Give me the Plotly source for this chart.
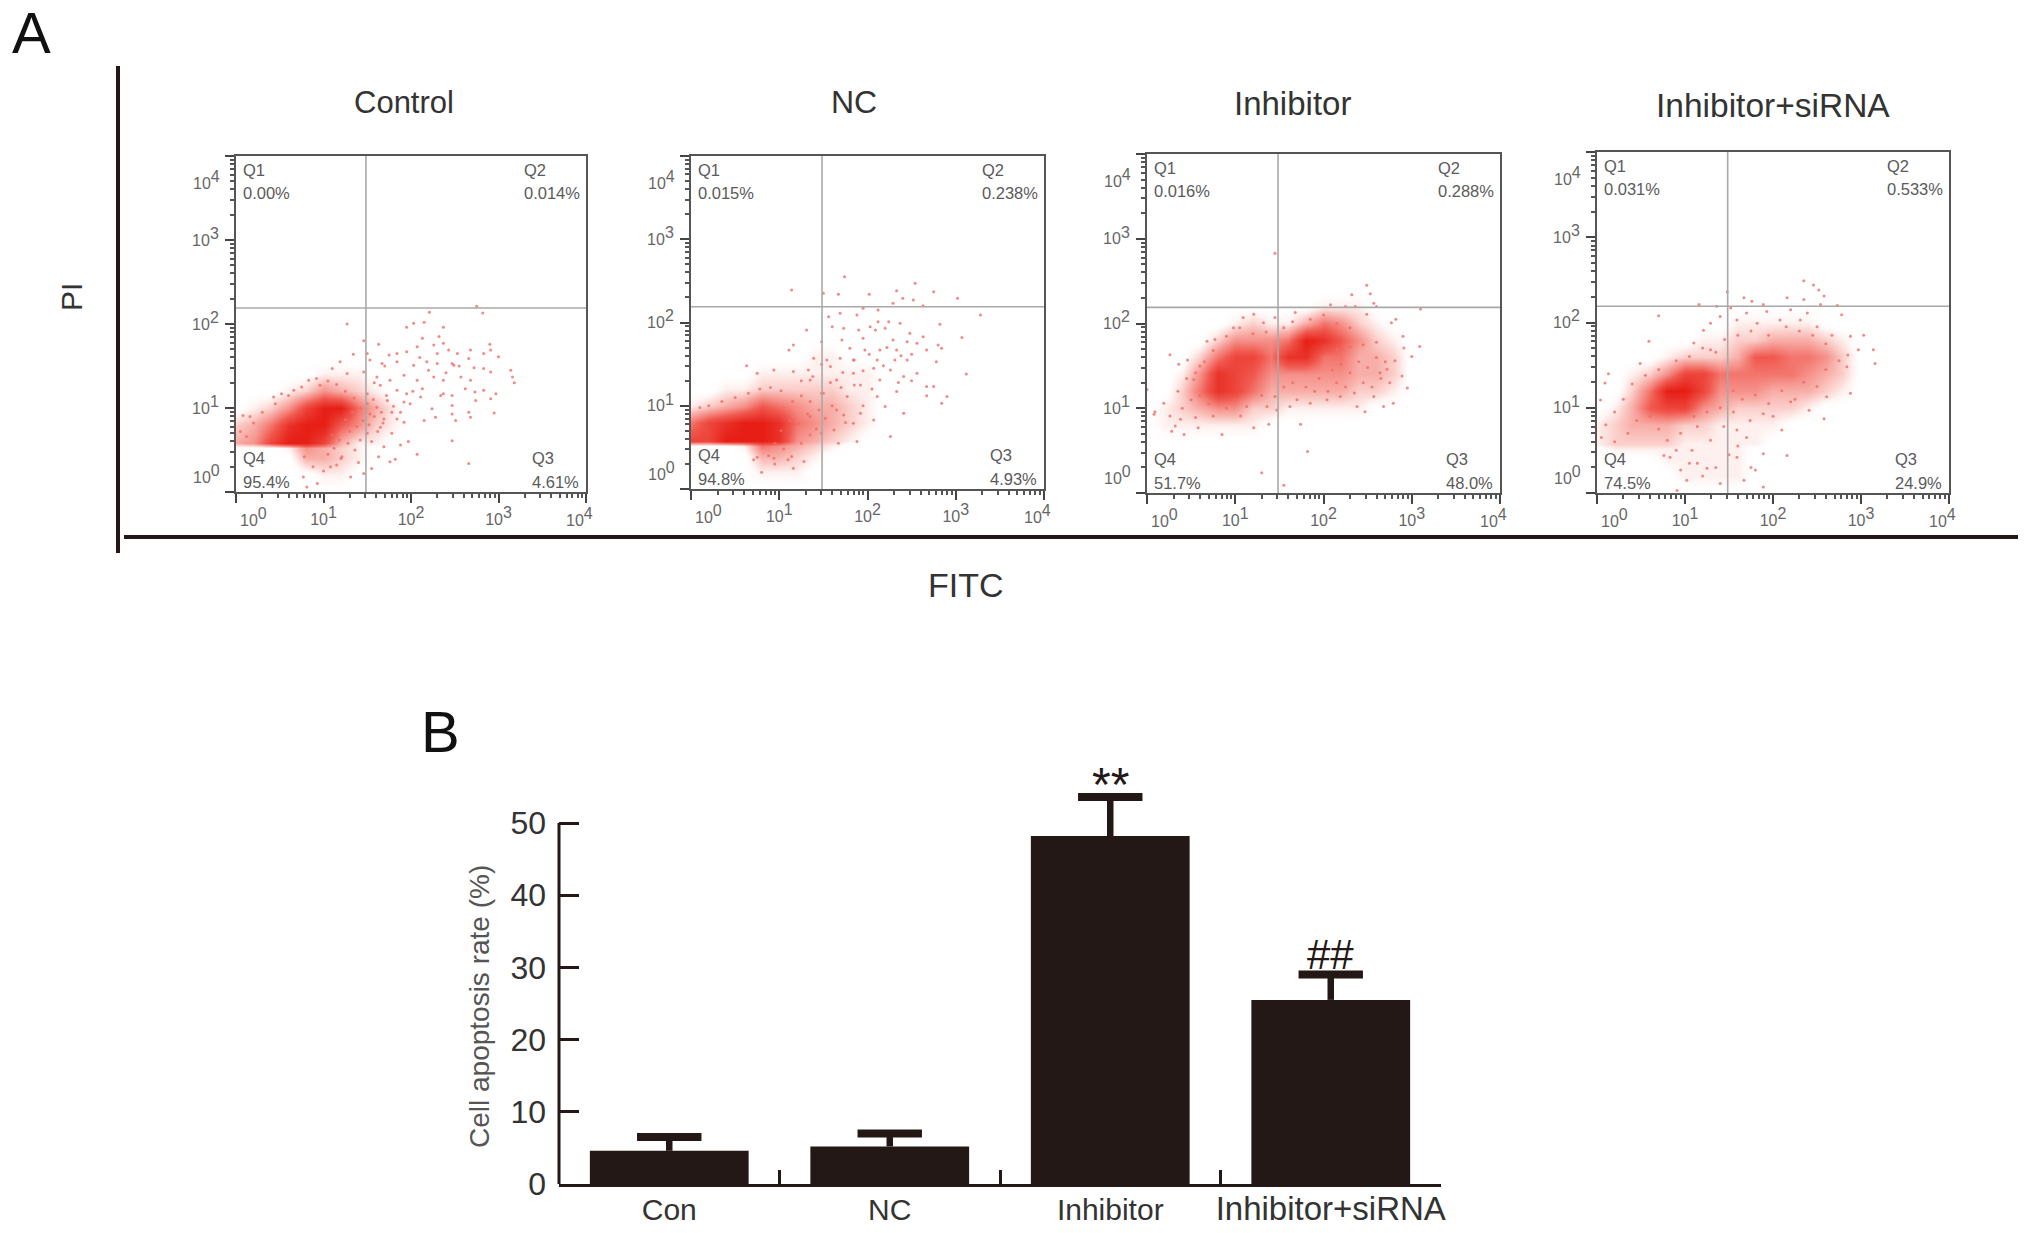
import numpy as np
import plotly.graph_objects as go

FONT = "Liberation Sans"
W, H = 2031, 1233

# ---------- panel A: flow cytometry (axes are decades of fluorescence) ----------
PANEL_TITLES = ["Control", "NC", "Inhibitor", "Inhibitor+siRNA"]
Q1_PCT = ["0.00%", "0.015%", "0.016%", "0.031%"]
Q2_PCT = ["0.014%", "0.238%", "0.288%", "0.533%"]
Q3_PCT = ["4.61%", "4.93%", "48.0%", "24.9%"]
Q4_PCT = ["95.4%", "94.8%", "51.7%", "74.5%"]
GATE_X = 1.485
GATE_Y = 2.19
DECADES = [0, 1, 2, 3, 4]
DECADE_LABELS = ['10<sup><span style="font-size:16px">%d</span></sup>' % d for d in DECADES]

# estimated event density (0-9) read from the dense clouds; one digit per column
DENSITY_X = [0, .2, .4, .6, .8, 1, 1.2, 1.4, 1.6, 1.8, 2, 2.2, 2.4, 2.6, 2.8, 3, 3.2]
DENSITY_Y = [0, .2, .4, .52, .58, .8, 1, 1.2, 1.4, 1.6, 1.8, 2, 2.2, 2.4]
DENSITY_CONTROL = [
    "00000000000000000", "00000110000000000", "00003321000000000", "00014321000000000",
    "34799731100000000", "23589964210000000", "01247995310000000", "00012432100000000",
    "00000111000000000", "00000000000000000", "00000000000000000", "00000000000000000",
    "00000000000000000", "00000000000000000"]
DENSITY_NC = [
    "00000000000000000", "00001110000000000", "00003321000000000", "00015432100000000",
    "77999843210000000", "57899854321000000", "12346543321000000", "00112222211000000",
    "00001111111000000", "00000001100000000", "00000000000000000", "00000000000000000",
    "00000000000000000", "00000000000000000"]
DENSITY_INHIBITOR = [
    "00000000000000000", "00000000000000000", "00000000000000000", "00000000000000000",
    "00000000000000000", "01111110000000000", "01234422111110000", "00258753333322100",
    "00148764444433200", "00025775885533200", "00002444598642100", "00000121135421000",
    "00000000001110000", "00000000000000000"]
DENSITY_SIRNA = [
    "00000000000000000", "00000111100000000", "00001111100000000", "01111111100000000",
    "12222111110000000", "12333221111000000", "01367743222210000", "00259974443332100",
    "00124775555543200", "00001222366554200", "00000011223332100", "00000000111110000",
    "00000000000000000", "00000000000000000"]

# individually visible events outside the dense clouds
CONTROL_X = [1.27,2.75,2.82,2.21,1.95,2.03,2.15,2.37,1.46,2.32,2.13,1.63,2.07,2.26,2.37,2.9,2.91,2.43,2.53,2.68,2.83,3.0,1.75,1.84,1.95,1.34,1.5,1.53,1.67,1.84,2.03,2.18,2.3,2.47,2.66,2.49,2.83,2.91,3.14,3.16,3.18,1.19,1.1,1.27,1.46,1.61,1.76,1.92,2.07,2.26,2.37,2.57,2.68,1.65,1.84,1.95,2.13,2.37,2.47,2.62,2.73,2.83,2.97,2.91,1.5,1.73,1.92,2.11,2.34,2.47,2.74,1.61,1.78,1.99,2.24,2.66,2.95,2.47,1.53,1.69,1.84,1.92,2.15,2.28,2.51,2.68,1.5,1.65,1.78,1.97,1.88,1.69,2.47,2.07,1.63,1.76,2.66,1.82,1.15,1.31,1.46,1.55,.93,.81,.77,1.08,1.21,.16,.08,.43,.52,.66,.83,.96]
CONTROL_Y = [2.0,2.21,2.13,2.14,1.96,2.01,2.02,1.96,1.8,1.85,1.83,1.76,1.73,1.75,1.77,1.76,1.69,1.69,1.65,1.69,1.65,1.61,1.63,1.65,1.67,1.64,1.65,1.57,1.53,1.55,1.51,1.55,1.53,1.53,1.59,1.51,1.47,1.43,1.45,1.37,1.3,1.55,1.47,1.41,1.43,1.37,1.33,1.39,1.33,1.37,1.33,1.37,1.33,1.27,1.21,1.17,1.23,1.17,1.15,1.23,1.19,1.21,1.17,1.11,1.17,1.09,1.07,1.13,1.15,1.03,1.09,1.01,.95,1.05,.99,.95,.94,.93,.93,.87,.87,.83,.85,.89,.85,.89,.7,.77,.7,.6,.56,.54,.61,.45,.42,.36,.34,.39,.32,.18,.22,.28,.1,.06,.18,.3,.42,.9,.91,1.13,1.17,1.21,1.33,1.27]
CONTROL_HALO = [(1.05,.45),(1.12,.52),(1.2,.4),(1.28,.58),(1.36,.5),(1.42,.62),(1.1,.68),(1.18,.62),(1.3,.72),(1.38,.78),(1.45,.85),(1.52,.8),(1.58,.9),(1.62,.72),(1.68,.82),(1.25,.86),(1.33,.95),(1.42,1.0),(1.5,1.05),(1.57,1.1),(1.35,1.12),(1.25,1.2),(1.15,1.28),(1.05,1.32),(.92,1.35),(.75,1.25),(.6,1.15),(.45,1.05),(.3,.95),(.2,.82),(.05,.72),(.12,.66),(1.0,.25),(.88,.3),(.78,.42),(1.4,.35),(1.55,.6),(1.66,.95),(1.72,1.15),(1.8,1.02),(1.88,.95),(2.02,1.2),(2.2,1.45),(2.4,1.42),(2.55,1.5),(2.72,1.48),(2.1,1.6),(2.3,1.65),(1.58,1.3),(1.7,1.5)]
NC_X = [1.14,1.74,1.5,1.67,2.02,2.33,2.54,2.75,3.02,2.4,2.52,2.63,2.29,2.12,1.95,1.88,1.69,1.56,3.28,2.82,2.37,2.24,2.12,2.03,1.31,1.6,1.73,1.9,2.09,2.2,2.48,2.63,3.07,2.8,2.84,1.48,1.71,1.95,2.29,2.45,2.56,1.16,1.11,1.8,1.97,2.14,2.33,2.67,2.78,1.39,1.54,1.69,1.84,2.11,2.31,2.45,.94,1.16,1.33,1.58,1.84,2.07,2.26,2.41,2.56,3.12,.63,.75,1.35,1.65,1.92,2.14,2.33,2.67,2.75,2.67,2.9,2.84,1.5,1.77,2.11,2.2,2.41,1.92,1.73,2.07,1.62,1.84,2.26,1.88,1.67,1.48,1.35,1.28,1.16,.8,1.14,.94,.71]
NC_Y = [2.39,2.55,2.35,2.34,2.34,2.38,2.47,2.37,2.29,2.29,2.27,2.2,2.23,2.15,2.17,2.09,2.11,2.07,2.09,1.98,1.99,2.01,2.01,1.95,1.91,1.95,1.93,1.91,1.91,1.93,1.87,1.83,1.82,1.73,1.69,1.77,1.79,1.81,1.79,1.77,1.75,1.73,1.67,1.69,1.67,1.67,1.67,1.67,1.53,1.57,1.55,1.57,1.55,1.55,1.55,1.55,1.43,1.41,1.43,1.47,1.39,1.45,1.43,1.35,1.39,1.38,1.48,1.39,1.31,1.31,1.25,1.31,1.17,1.23,1.23,1.12,1.11,1.03,1.15,1.11,1.11,.99,.91,.91,.89,.83,.71,.79,.63,.57,.55,.67,.87,.33,.25,.2,.39,.37,.35]
NC_HALO = [(.95,.55),(1.05,.48),(1.15,.62),(1.25,.55),(1.35,.65),(1.02,.7),(1.12,.82),(1.22,.78),(1.32,.9),(1.42,.72),(1.45,.95),(1.52,.85),(1.6,1.0),(1.05,.98),(1.15,1.05),(1.25,1.12),(1.35,1.05),(1.48,1.15),(1.02,1.18),(.9,1.22),(.78,1.2),(.65,1.15),(.5,1.1),(.35,1.05),(.2,1.0),(.1,.98),(.88,.4),(.75,.38),(.95,.3),(1.1,.35),(1.25,1.3),(1.38,1.35),(1.48,1.5),(1.58,1.28),(1.7,1.22),(1.72,1.4),(1.85,1.55),(1.95,1.42),(2.02,1.62),(2.18,1.48),(2.22,1.7),(2.38,1.6),(2.35,1.28),(2.5,1.3),(2.5,1.62),(2.05,1.2),(1.85,1.25),(1.65,.95),(1.75,.8),(1.95,1.0)]
INHIBITOR_X = [1.45,2.49,2.53,2.32,3.1,2.57,2.25,2.08,2.36,2.49,2.6,2.82,2.77,2.9,2.91,3.09,3.0,2.81,2.89,2.95,2.79,2.68,2.47,1.74,1.82,1.3,1.55,1.21,1.38,.85,.28,.42,.58,.26,.36,.46,.68,.09,.19,.08,.26,0,1.21,1.09,1.45,1.68,.98,.77,.6,.53,1.32,1.45,1.47,1.62,1.85,2.04,2.19,2.38,1.36,1.13,1.06,.75,.55,.38,.32,2.72,2.64,2.57]
INHIBITOR_Y = [2.83,2.45,2.35,2.34,2.17,2.24,2.2,2.22,2.2,2.11,2.2,2.05,2.01,1.85,1.71,1.73,1.61,1.56,1.38,1.24,1.06,1.02,.96,.81,.49,.24,.09,.77,.81,.69,.73,.69,.77,1.63,1.52,1.57,1.79,.96,1.06,.93,.91,1.22,2.11,2.07,2.07,2.13,1.95,1.81,1.5,1.34,2.01,1.14,.98,1.02,1.06,1.1,1.14,1.02,1.02,1.02,.91,.91,.89,.87,.79,1.46,1.42,1.14]
INHIBITOR_HALO = [(2.05,1.2),(2.15,1.3),(2.25,1.25),(2.35,1.18),(2.45,1.3),(2.55,1.25),(2.65,1.35),(2.1,1.45),(2.2,1.52),(2.3,1.42),(2.4,1.55),(2.5,1.48),(2.6,1.6),(2.7,1.55),(2.75,1.3),(2.15,1.7),(2.3,1.72),(2.45,1.75),(2.6,1.78),(1.7,1.1),(1.8,1.25),(1.9,1.2),(1.95,1.35),(1.65,1.3),(1.55,1.25),(1.3,1.15),(1.2,1.25),(1.1,1.15),(1.0,1.1),(.9,1.0),(.7,1.05),(.6,1.15),(.5,1.1),(.4,1.0),(.35,1.2),(.45,1.35),(.55,1.42),(.65,1.55),(.75,1.68),(.9,1.85),(1.05,1.95),(1.2,1.88),(1.35,1.9),(1.55,1.95),(1.65,2.02),(1.85,2.05),(2.0,2.1),(2.15,2.0),(2.3,1.95),(1.15,1.7)]
SIRNA_X = [2.35,2.46,2.52,2.58,1.48,1.67,1.76,1.89,2.16,2.35,2.54,2.73,1.16,1.36,1.52,1.7,1.93,2.2,2.39,2.78,.7,1.4,1.59,1.82,2.08,2.31,2.5,1.29,3.03,2.88,2.67,3.14,3.16,2.97,2.84,2.88,2.61,2.58,2.41,2.2,1.89,1.74,1.59,2.1,1.89,2.16,1.8,1.67,1.89,1.59,1.44,1.29,1.14,1.08,.95,1.14,1.25,1.02,.83,.76,.91,1.4,.04,.09,.13,.49,.59,1.1,1.21,1.29]
SIRNA_Y = [2.49,2.44,2.38,2.31,2.36,2.29,2.25,2.21,2.29,2.27,2.21,2.2,2.21,2.19,2.17,2.11,2.13,2.15,2.11,2.09,2.08,2.07,2.03,1.99,2.03,2.03,1.95,1.99,1.85,1.84,1.85,1.68,1.52,1.68,1.48,1.17,1.13,.87,.97,1.07,.93,.85,.74,.74,.46,.44,.27,.15,.07,.42,.78,.62,.78,.5,.27,.35,.29,.15,.42,.44,.03,.11,1.09,1.29,1.4,1.52,1.78,1.76,1.91,1.68]
SIRNA_HALO = [(1.55,1.2),(1.65,1.1),(1.8,1.15),(1.95,1.05),(2.1,1.2),(2.25,1.1),(2.35,1.3),(2.5,1.25),(2.6,1.45),(2.75,1.55),(2.85,1.62),(2.6,1.75),(2.45,1.85),(2.3,1.9),(2.15,1.95),(1.95,1.85),(1.75,1.9),(1.6,1.85),(1.45,1.8),(1.35,1.65),(1.2,1.7),(1.05,1.6),(.9,1.55),(.7,1.45),(.55,1.38),(.4,1.28),(.3,1.1),(.2,.95),(.1,.8),(.05,.65),(.2,.6),(.35,.7),(.45,.85),(.6,.9),(.7,.75),(.8,.62),(.95,.7),(1.1,.9),(1.25,.95),(1.4,1.0),(1.55,.95),(1.7,.65),(1.5,.45),(1.35,.3),(1.2,.2),(1.05,.35),(.9,.5),(1.6,.55),(1.75,.3),(2.0,.9)]

DENSITIES = [DENSITY_CONTROL, DENSITY_NC, DENSITY_INHIBITOR, DENSITY_SIRNA]
EVENTS_X = [CONTROL_X, NC_X, INHIBITOR_X, SIRNA_X]
EVENTS_Y = [CONTROL_Y, NC_Y, INHIBITOR_Y, SIRNA_Y]
HALOS = [CONTROL_HALO, NC_HALO, INHIBITOR_HALO, SIRNA_HALO]

# ---------- panel B: bars ----------
BAR_CATEGORIES = ["Con", "NC", "Inhibitor", "Inhibitor+siRNA"]
BAR_LABELS = ["Con", "NC", "Inhibitor", '<span style="font-size:33px">Inhibitor+siRNA</span>']
BAR_VALUES = [4.6, 5.2, 48.2, 25.5]
BAR_ERRORS = [1.9, 1.8, 5.4, 3.5]
BAR_MARKS = ["", "", "**", "##"]
BAR_TICKS = [0, 10, 20, 30, 40, 50]
BAR_TOP = 50
BAR_RANGE_TOP = 60

# ---------- layout in pixels ----------
BOXES = [(236, 586, 156, 492), (691, 1044, 156, 489), (1147, 1500, 154, 493), (1597, 1949, 152, 493)]
TITLE_POS = [(404, 102), (854, 102), (1292, 104), (1773, 105)]
TITLE_SIZES = [31, 32, 33, 33.5]
BAR_L, BAR_R, BAR_50, BAR_0 = 559, 1441, 823, 1184
DARK = "#231815"
GREY = "#555555"
LABEL_GREY = "#666666"
COLORSCALE = [[0, "rgba(255,255,255,0)"], [1/9, "#fef0ee"], [3/9, "#f8aea8"], [6/9, "#f0584e"], [1, "#e61e16"]]

def px_x(v): return v / W
def px_y(v): return 1 - v / H

minor_vals = [d + float(np.log10(k)) for d in DECADES[:-1] for k in range(2, 10)]
# the end labels are nudged inwards in the reference, so they are placed as annotations
axis_labels = ["", DECADE_LABELS[1], DECADE_LABELS[2], DECADE_LABELS[3], ""]

fig = go.Figure()
layout = dict(width=W, height=H, autosize=False, margin=dict(l=0, r=0, t=0, b=0),
              paper_bgcolor="white", plot_bgcolor="white", showlegend=False,
              font=dict(family=FONT, color=GREY))
annotations = []

def text(x, y, s, size, color=DARK, **kw):
    annotations.append(dict(x=px_x(x), y=px_y(y), xref="paper", yref="paper", text=s, showarrow=False,
                            font=dict(family=FONT, size=size, color=color),
                            xanchor="center", yanchor="middle", **kw))

for i, (l, r, t, b) in enumerate(BOXES):
    n = i + 1
    ax = "" if n == 1 else str(n)
    xa, ya = "x" + ax, "y" + ax
    common = dict(range=[0, 4], tickmode="array", tickvals=DECADES, ticktext=axis_labels, automargin=False,
                  ticks="outside", ticklen=9, tickwidth=2, tickcolor="#444444", ticklabelstandoff=3,
                  minor=dict(tickmode="array", tickvals=minor_vals, ticks="outside", ticklen=4,
                             tickwidth=1.5, tickcolor="#555555"),
                  showline=True, mirror=True, linecolor="#555555", linewidth=2, showgrid=False,
                  zeroline=False, tickfont=dict(family=FONT, size=16, color=LABEL_GREY))
    layout["xaxis" + ax] = dict(domain=[px_x(l), px_x(r)], anchor=ya, **common)
    layout["yaxis" + ax] = dict(domain=[px_y(b), px_y(t)], anchor=xa, **common)

    fig.add_trace(go.Heatmap(x=DENSITY_X, y=DENSITY_Y,
                             z=[[int(c) for c in row] for row in DENSITIES[i]],
                             zmin=0, zmax=9, zsmooth="best", colorscale=COLORSCALE,
                             showscale=False, hoverinfo="skip", xaxis=xa, yaxis=ya))
    dots = dict(mode="markers", marker=dict(size=3, color="#ee6d66", opacity=0.8, line=dict(width=0)),
                xaxis=xa, yaxis=ya)
    fig.add_trace(go.Scatter(x=EVENTS_X[i], y=EVENTS_Y[i], **dots))
    fig.add_trace(go.Scatter(x=[p[0] for p in HALOS[i]], y=[p[1] for p in HALOS[i]], **dots))
    gate = dict(mode="lines", line=dict(color="#a8a8a8", width=1.6), xaxis=xa, yaxis=ya, hoverinfo="skip")
    fig.add_trace(go.Scatter(x=[GATE_X, GATE_X], y=[0, 4], **gate))
    fig.add_trace(go.Scatter(x=[0, 4], y=[GATE_Y, GATE_Y], **gate))

    for s, fx, fy, dx, dy in [("Q1", 0, 1, 5, -14), (Q1_PCT[i], 0, 1, 5, -37),
                              ("Q2", 1, 1, -64, -14), (Q2_PCT[i], 1, 1, -64, -37),
                              ("Q4", 0, 0, 5, 34), (Q4_PCT[i], 0, 0, 5, 10),
                              ("Q3", 1, 0, -56, 34), (Q3_PCT[i], 1, 0, -56, 10)]:
        annotations.append(dict(x=fx, y=fy, xref=xa + " domain", yref=ya + " domain", text=s,
                                xanchor="left", yanchor="middle", xshift=dx, yshift=dy, showarrow=False,
                                font=dict(family=FONT, size=16.5, color="#5a5a5a")))
    # end tick labels: y axis 10^4 / 10^0, x axis 10^0 / 10^4
    for s, xd, yd, xs, ys, anchor in [(DECADE_LABELS[4], 0, 1, -14, -24, "right"),
                                      (DECADE_LABELS[0], 0, 0, -14, 18, "right"),
                                      (DECADE_LABELS[0], 0, 0, 17, -25, "center"),
                                      (DECADE_LABELS[4], 1, 0, -7, -25, "center")]:
        annotations.append(dict(x=xd, y=yd, xref=xa + " domain", yref=ya + " domain", text=s,
                                xanchor=anchor, yanchor="middle", xshift=xs, yshift=ys, showarrow=False,
                                font=dict(family=FONT, size=16, color=LABEL_GREY)))
    text(TITLE_POS[i][0], TITLE_POS[i][1], PANEL_TITLES[i], TITLE_SIZES[i], "#333333")

# bars: stems come from error_y, the thick caps are line markers at the upper error value
fig.add_trace(go.Bar(x=BAR_CATEGORIES, y=BAR_VALUES, width=0.72, marker=dict(color=DARK, line=dict(width=0)),
                     error_y=dict(type="data", array=BAR_ERRORS, symmetric=False, arrayminus=[0] * 4,
                                  color=DARK, thickness=6.5, width=0),
                     xaxis="x5", yaxis="y5"))
fig.add_trace(go.Scatter(x=BAR_CATEGORIES, y=[v + e for v, e in zip(BAR_VALUES, BAR_ERRORS)], mode="markers",
                         marker=dict(symbol="line-ew", size=46, color=DARK, line=dict(color=DARK, width=8)),
                         xaxis="x5", yaxis="y5"))
units_px = (BAR_0 - BAR_50) / BAR_TOP
bar_top_px = BAR_0 - units_px * BAR_RANGE_TOP
layout["xaxis5"] = dict(domain=[px_x(BAR_L), px_x(BAR_R)], anchor="y5", range=[-0.5, 3.5], type="category",
                        tickmode="array", tickvals=BAR_CATEGORIES, ticktext=BAR_LABELS,
                        tickson="boundaries", ticks="inside", ticklen=14, tickwidth=2.5, tickcolor=DARK,
                        tickangle=0, automargin=False, ticklabelstandoff=-3,
                        showline=True, linecolor=DARK, linewidth=3, showgrid=False, zeroline=False,
                        tickfont=dict(family=FONT, size=30, color="#333333"))
layout["yaxis5"] = dict(domain=[px_y(BAR_0), px_y(bar_top_px)], anchor="x5", range=[0, BAR_RANGE_TOP],
                        tickvals=BAR_TICKS, automargin=False, ticklabelstandoff=12,
                        ticks="inside", ticklen=20, tickwidth=3, tickcolor=DARK,
                        showline=False, showgrid=False, zeroline=False,
                        tickfont=dict(family=FONT, size=32, color="#333333"))
text(479, 1007, "Cell apoptosis rate (%)", 28, "#555555", textangle=-90)

for k, mark in enumerate(BAR_MARKS):
    if mark:
        annotations.append(dict(x=BAR_CATEGORIES[k], y=BAR_VALUES[k] + BAR_ERRORS[k], xref="x5", yref="y5",
                                text=mark, showarrow=False, xanchor="center", yanchor="bottom",
                                yshift=-16 if mark == "**" else -5,
                                font=dict(family=FONT, size=48 if mark == "**" else 42, color=DARK)))

text(31, 33, "A", 58, "#111111")
text(440, 731, "B", 58, "#111111")
text(71, 297, "PI", 30, "#333333", textangle=-90)
text(966, 585, "FITC", 34, "#333333")

layout["annotations"] = annotations
layout["shapes"] = [
    dict(type="line", xref="paper", yref="paper", x0=px_x(118), x1=px_x(118), y0=px_y(66), y1=px_y(553),
         line=dict(color=DARK, width=4)),
    dict(type="line", xref="paper", yref="paper", x0=px_x(124), x1=px_x(2018), y0=px_y(537), y1=px_y(537),
         line=dict(color=DARK, width=4)),
    dict(type="line", xref="x5 domain", yref="y5", x0=0, x1=0, y0=0, y1=BAR_TOP,
         line=dict(color=DARK, width=3)),
]
fig.update_layout(**layout)
fig.write_html("out.html", config=dict(displayModeBar=False),
               post_script="document.body.style.margin='0';")
